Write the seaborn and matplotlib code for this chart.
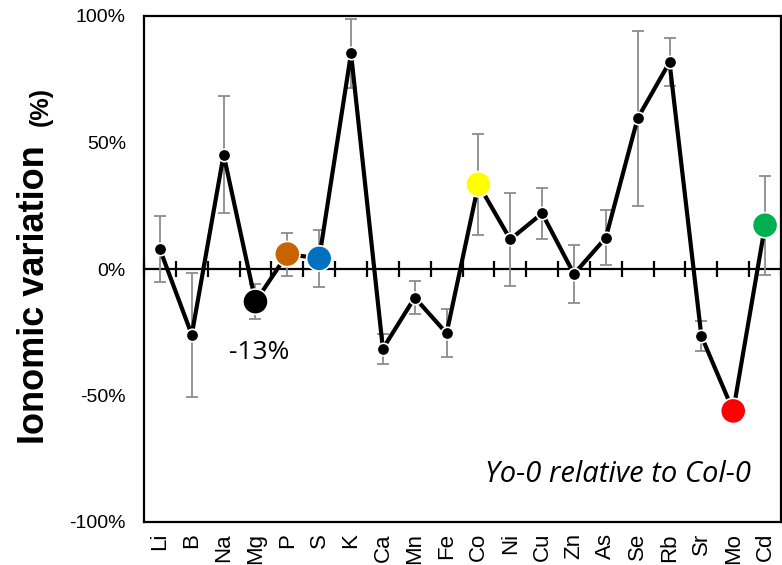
import matplotlib
matplotlib.use("Agg")
import matplotlib.pyplot as plt
import seaborn as sns
import numpy as np
import pandas as pd
from matplotlib.ticker import FuncFormatter

elements = ["Li", "B", "Na", "Mg", "P", "S", "K", "Ca", "Mn", "Fe",
            "Co", "Ni", "Cu", "Zn", "As", "Se", "Rb", "Sr", "Mo", "Cd"]
variation = [7.8, -26.0, 45.2, -12.9, 5.9, 4.2, 85.2, -31.5, -11.3, -25.4,
             33.5, 11.7, 22.0, -2.0, 12.4, 59.6, 81.7, -26.5, -56.1, 17.3]
error = [13.0, 24.6, 23.0, 6.8, 8.5, 11.4, 13.6, 6.0, 6.6, 9.5,
         20.0, 18.5, 10.0, 11.6, 11.0, 34.6, 9.5, 5.9, 3.0, 19.6]
highlight = {"Mg": "#000000", "P": "#C86400", "S": "#0070C0",
             "Co": "#FFFF00", "Mo": "#FF0000", "Cd": "#00B050"}
yticks = [-100, -50, 0, 50, 100]

df = pd.DataFrame({"element": elements, "value": variation, "err": error})
df["pos"] = np.arange(len(df))

sns.set_style("white")
plt.rcParams.update({"text.color": "black", "axes.labelcolor": "black",
                     "xtick.color": "black", "ytick.color": "black"})
fig = plt.figure(figsize=(7.82, 5.65), dpi=100)
ax = fig.add_axes([144 / 782, 43 / 565, 637 / 782, 506 / 565])

# error bars
ax.errorbar(df["pos"], df["value"], yerr=df["err"], fmt="none",
            ecolor="#8C8C8C", elinewidth=1.3, capsize=4.5, capthick=1.3, zorder=2)
# zero line
ax.axhline(0, color="black", lw=1.6, zorder=1)
# connecting line
sns.lineplot(data=df, x="pos", y="value", sort=False, color="black",
             lw=3.0, ax=ax, zorder=3)
# small markers
small = df[~df["element"].isin(list(highlight))]
sns.scatterplot(data=small, x="pos", y="value", color="black", s=80,
                edgecolor="white", linewidth=1.2, ax=ax, zorder=4)
# highlighted markers
big = df[df["element"].isin(list(highlight))]
sns.scatterplot(data=big, x="pos", y="value", hue="element",
                palette=highlight, s=330, edgecolor="white", linewidth=1.2,
                ax=ax, zorder=5, legend=False)

ax.set_xlim(-0.5, len(elements) - 0.5)
ax.set_ylim(-100, 100)
ax.set_xticks(df["pos"])
ax.set_xticklabels(elements, rotation=90, fontsize=16, family="Liberation Sans",
                   color="black")
ax.tick_params(axis="x", length=0, pad=8)
ax.set_yticks(yticks)
ax.yaxis.set_major_formatter(FuncFormatter(lambda v, p: f"{v:.0f}%"))
ax.tick_params(axis="y", direction="in", length=6, width=1.6, labelsize=14,
               pad=13, labelcolor="black")
for lab in ax.get_yticklabels():
    lab.set_family("Liberation Sans")
for s in ax.spines.values():
    s.set_linewidth(1.6)
    s.set_color("black")
ax.set_xlabel("")
ax.set_ylabel("")

# tick marks on zero line
sec = ax.secondary_xaxis(0.5)
sec.set_xticks(np.arange(-0.5, len(elements), 1.0))
sec.set_xticklabels([])
sec.tick_params(direction="inout", length=11, width=1.6, color="black",
                labelbottom=False, labeltop=False)
sec.spines["bottom"].set_visible(False)
sec.spines["top"].set_visible(False)

# y label
fig.text(35 / 782, 1 - 295 / 565, "Ionomic variation", rotation=90,
         ha="center", va="center", fontsize=26, fontweight="bold",
         family="Liberation Sans", color="black")
fig.text(41 / 782, 1 - 107 / 565, "(%)", rotation=90, ha="center", va="center",
         fontsize=18, fontweight="bold", family="Liberation Sans", color="black")

ax.text(3.11, -33.1, "-13%", ha="center", va="center", fontsize=19,
        family="Open Sans", color="black")
ax.text(0.744, 0.093, "Yo-0 relative to Col-0", transform=ax.transAxes,
        ha="center", va="center", fontsize=21, style="italic", family="Open Sans",
        color="black")

fig.savefig("out.png", dpi=100)
